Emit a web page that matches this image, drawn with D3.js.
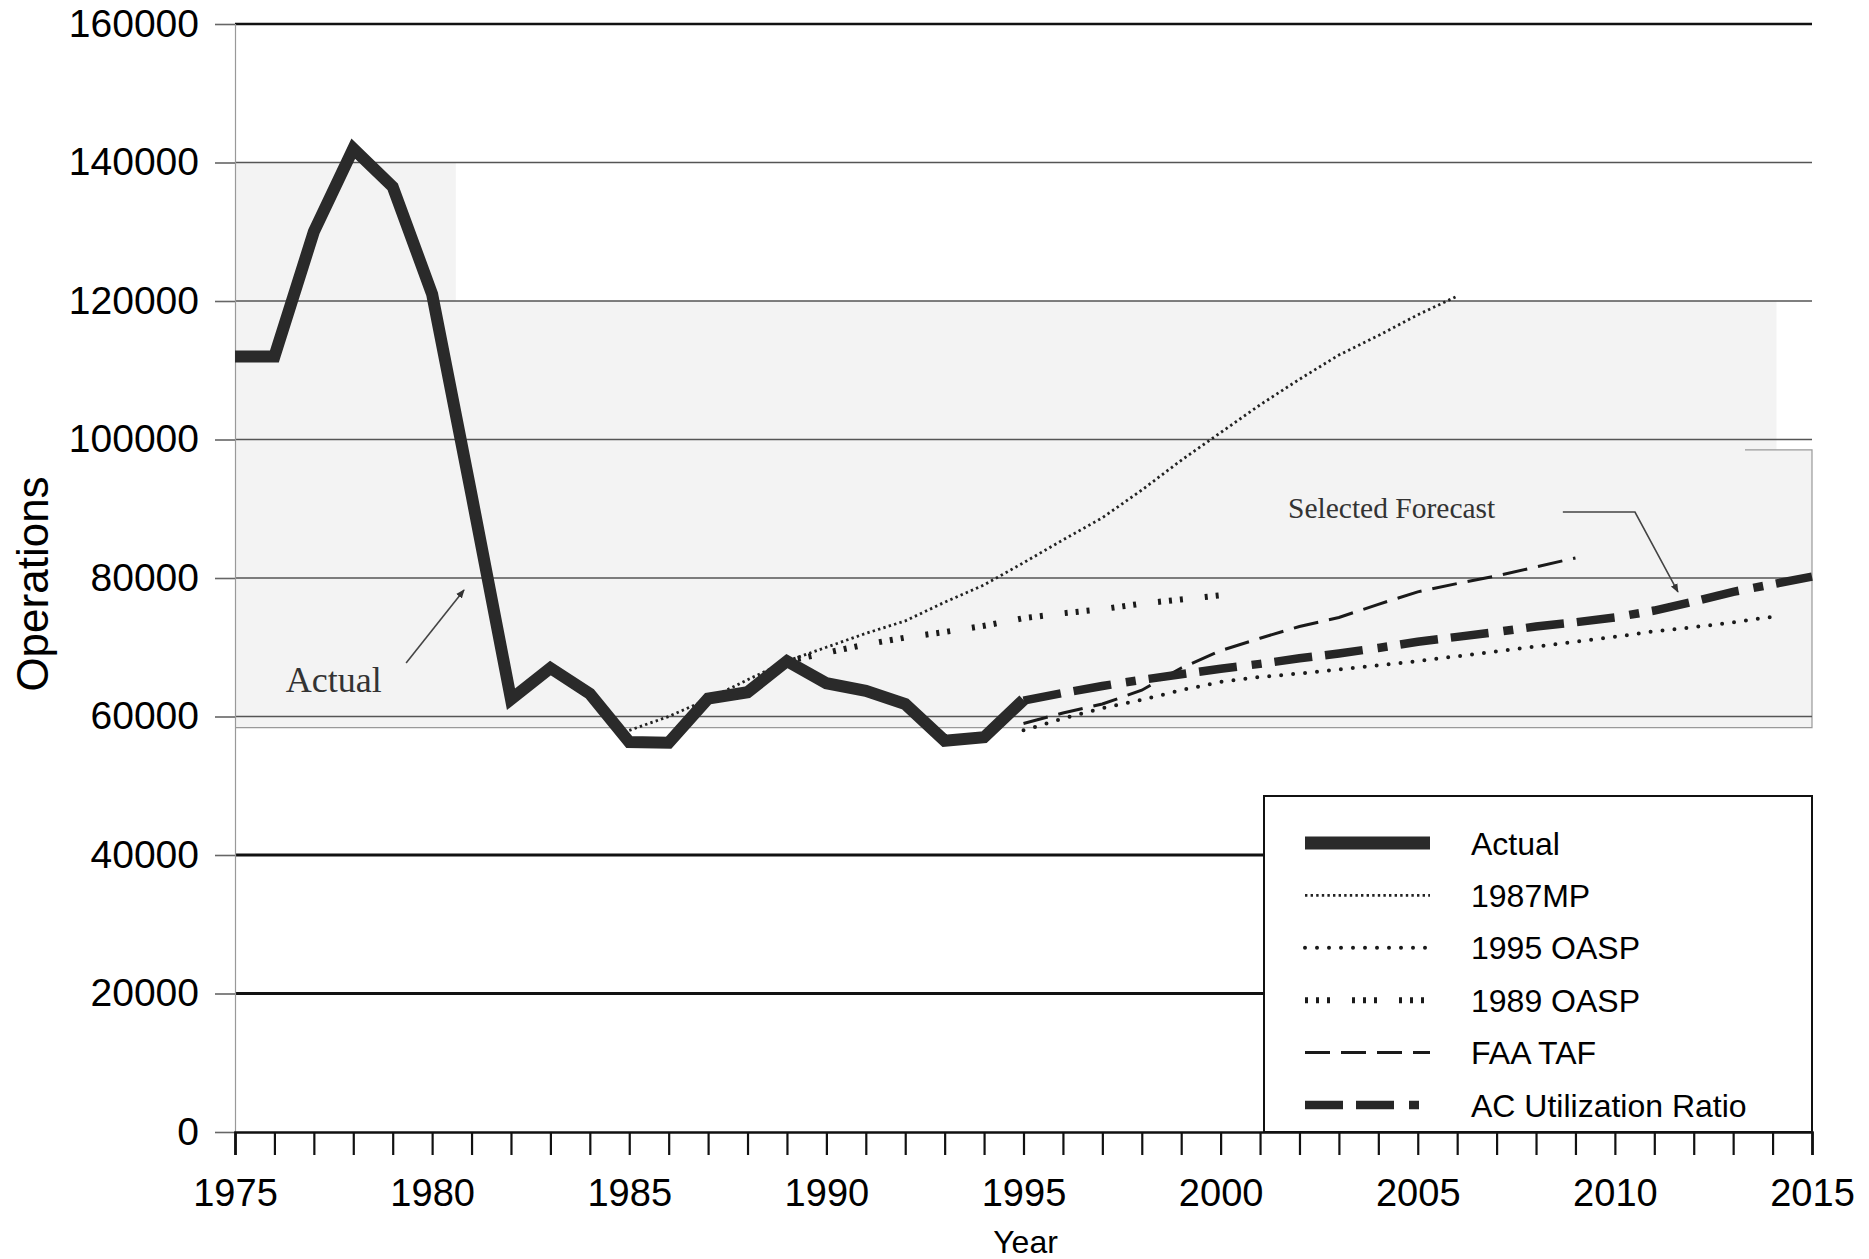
<!DOCTYPE html>
<html><head><meta charset="utf-8">
<script src="https://cdn.jsdelivr.net/npm/d3@7"></script>
<style>
html,body{margin:0;padding:0;background:#fff;}
svg{display:block;}
</style></head><body>
<svg id="chart" width="1869" height="1259"></svg>
<script>
// ---------------- DATA ----------------
const actualYears = [1975,1976,1977,1978,1979,1980,1981,1982,1983,1984,1985,1986,1987,1988,1989,1990,1991,1992,1993,1994,1995];
const actualOps   = [112000,112000,130000,142000,136500,121000,92000,62500,67000,63300,56300,56200,62600,63500,68000,64800,63700,61800,56500,57000,62400];

const mp1987Years = [1985,1986,1987,1988,1989,1990,1991,1992,1993,1994,1995,1996,1997,1998,1999,2000,2001,2002,2003,2004,2005,2006];
const mp1987Ops   = [58000,60000,62500,65300,68000,70000,72000,73800,76500,79000,82200,85500,88700,92700,97000,101000,105000,108700,112200,115000,118000,120700];

const oasp1995Years = [1995,1996,1997,1998,1999,2000,2001,2002,2003,2004,2005,2006,2007,2008,2009,2010,2011,2012,2013,2014];
const oasp1995Ops   = [58000,59700,61200,62400,63800,65000,65700,66200,66800,67400,68000,68700,69400,70100,70800,71500,72300,72900,73600,74400];

const oasp1989Years = [1989,1990,1991,1992,1993,1994,1995,1996,1997,1998,1999,2000];
const oasp1989Ops   = [68000,69200,70400,71400,72200,73100,74200,74900,75500,76300,76900,77500];

const tafYears = [1995,1996,1997,1998,1999,2000,2001,2002,2003,2004,2005,2006,2007,2008,2009];
const tafOps   = [59000,60500,61800,63800,67000,69500,71300,73000,74300,76200,78000,79200,80300,81600,82900];

const acYears = [1995,1996,1997,1998,1999,2000,2001,2002,2003,2004,2005,2006,2007,2008,2009,2010,2011,2012,2013,2014,2015];
const acOps   = [62300,63400,64400,65300,66100,66900,67600,68400,69100,69900,70800,71500,72200,73000,73600,74300,75300,76600,78000,79100,80200];

const yTickValues = [0,20000,40000,60000,80000,100000,120000,140000,160000];
const xTickYears  = [1975,1976,1977,1978,1979,1980,1981,1982,1983,1984,1985,1986,1987,1988,1989,1990,1991,1992,1993,1994,1995,1996,1997,1998,1999,2000,2001,2002,2003,2004,2005,2006,2007,2008,2009,2010,2011,2012,2013,2014,2015];
const xLabelYears = [1975,1980,1985,1990,1995,2000,2005,2010,2015];

const legendLabels = ["Actual","1987MP","1995 OASP","1989 OASP","FAA TAF","AC Utilization Ratio"];

// ---------------- STYLES ----------------
const styles = {
  "Actual":               {w:12, dash:null, cap:"butt", color:"#2a2a2a"},
  "1987MP":               {w:2.8, dash:"2.4,3.2", cap:"butt", color:"#222"},
  "1995 OASP":            {w:4, dash:"0,12", cap:"round", color:"#1a1a1a"},
  "1989 OASP":            {w:6, dash:"3,8,3,8,3,22", cap:"butt", color:"#1a1a1a"},
  "FAA TAF":              {w:3, dash:"25,11", cap:"butt", color:"#1a1a1a"},
  "AC Utilization Ratio": {w:8.5, dash:"38,13,38,15,10,13", cap:"butt", color:"#262626"}
};

const series = [
  {name:"1987MP", years:mp1987Years, vals:mp1987Ops},
  {name:"1989 OASP", years:oasp1989Years, vals:oasp1989Ops},
  {name:"1995 OASP", years:oasp1995Years, vals:oasp1995Ops},
  {name:"FAA TAF", years:tafYears, vals:tafOps},
  {name:"AC Utilization Ratio", years:acYears, vals:acOps},
  {name:"Actual", years:actualYears, vals:actualOps}
];

const x = d3.scaleLinear().domain([1975,2015]).range([235,1812]);
const y = d3.scaleLinear().domain([0,160000]).range([1132,24]);

const svg = d3.select("#chart");
const sans = "'Liberation Sans', Arial, sans-serif";
const serif = "'Liberation Serif', 'Times New Roman', serif";

// defs - arrow marker
const defs = svg.append("defs");
defs.append("marker").attr("id","arr").attr("viewBox","0 0 10 10")
  .attr("refX",9).attr("refY",5).attr("markerWidth",9).attr("markerHeight",9)
  .attr("orient","auto-start-reverse").attr("markerUnits","userSpaceOnUse")
  .append("path").attr("d","M0,1 L10,5 L0,9 Z").attr("fill","#333");

// ---------------- shaded region ----------------
const shade = [[1975,140000],[1980.6,140000],[1980.6,120000],[2014.1,120000],[2014.1,98500],[2015,98500],[2015,58400],[1975,58400]];
svg.append("path")
  .attr("d", d3.line().x(d=>x(d[0])).y(d=>y(d[1]))(shade) + "Z")
  .attr("fill","#f3f3f3");
svg.append("path")
  .attr("d", d3.line().x(d=>x(d[0])).y(d=>y(d[1]))([[2013.3,98500],[2015,98500],[2015,58400],[1975,58400]]))
  .attr("fill","none").attr("stroke","#999").attr("stroke-width",1.2);

// ---------------- gridlines ----------------
const grid = svg.append("g");
yTickValues.filter(v=>v>0).forEach(v=>{
  let col="#555", w=1.6;
  if (v===160000){col="#111"; w=2.6;}
  if (v<=40000){col="#111"; w=2.8;}
  grid.append("line")
    .attr("x1",x(1975)).attr("x2",x(2015))
    .attr("y1",y(v)).attr("y2",y(v))
    .attr("stroke",col).attr("stroke-width",w);
});

// ---------------- axes ----------------
const yAxis = d3.axisLeft(y).tickValues(yTickValues).tickSize(20).tickPadding(16).tickFormat(d3.format("d"));
const gy = svg.append("g").attr("transform",`translate(${x(1975)},0)`).call(yAxis);
gy.select(".domain").attr("stroke","#999").attr("stroke-width",1.2);
gy.selectAll(".tick line").attr("stroke","#666").attr("stroke-width",1.6);
gy.selectAll("text").attr("font-family",sans).attr("font-size",39).attr("fill","#000");

const xAxis = d3.axisBottom(x).tickValues(xTickYears).tickSize(23).tickPadding(24)
  .tickFormat(d => xLabelYears.includes(d) ? String(d) : "");
const gx = svg.append("g").attr("transform",`translate(0,${y(0)})`).call(xAxis);
gx.select(".domain").attr("stroke","#111").attr("stroke-width",2.6);
gx.selectAll(".tick line").attr("stroke","#111").attr("stroke-width",2.2);
gx.selectAll("text").attr("font-family",sans).attr("font-size",38).attr("fill","#000");

// axis titles
svg.append("text").attr("transform",`translate(48,${y(80000)+6}) rotate(-90)`)
  .attr("text-anchor","middle").attr("font-family",sans).attr("font-size",44).attr("fill","#000")
  .text("Operations");
svg.append("text").attr("x",x(1995)+2).attr("y",1253)
  .attr("text-anchor","middle").attr("font-family",sans).attr("font-size",32).attr("fill","#000")
  .text("Year");

// ---------------- legend ----------------
const lg = svg.append("g");
lg.append("rect").attr("x",1264).attr("y",796).attr("width",548).attr("height",336)
  .attr("fill","#fff").attr("stroke","#111").attr("stroke-width",2);
legendLabels.forEach((name,i)=>{
  const cy = 843 + i*52.4;
  const s = styles[name];
  lg.append("line").attr("x1",1305).attr("x2",1430).attr("y1",cy).attr("y2",cy)
    .attr("stroke",s.color).attr("stroke-width", name==="Actual"?13:s.w)
    .attr("stroke-dasharray",s.dash).attr("stroke-linecap",s.cap);
  lg.append("text").attr("x",1471).attr("y",cy).attr("dy","0.36em")
    .attr("font-family",sans).attr("font-size",32).attr("fill","#000").text(name);
});

// ---------------- series ----------------
const line = d3.line().x(d=>x(d[0])).y(d=>y(d[1]));
series.forEach(s=>{
  const st = styles[s.name];
  svg.append("path").datum(d3.zip(s.years,s.vals))
    .attr("d",line).attr("fill","none")
    .attr("stroke",st.color).attr("stroke-width",st.w)
    .attr("stroke-dasharray",st.dash).attr("stroke-linecap",st.cap)
    .attr("stroke-linejoin","miter").attr("stroke-miterlimit",4);
});

// ---------------- annotations ----------------
svg.append("text").attr("x",x(1976.29)).attr("y",y(63540))
  .attr("font-family",serif).attr("font-size",36).attr("fill","#333").text("Actual");
svg.append("path").attr("d",line([[1979.34,67725],[1980.81,78270]]))
  .attr("fill","none").attr("stroke","#444").attr("stroke-width",1.6).attr("marker-end","url(#arr)");

svg.append("text").attr("x",x(2001.71)).attr("y",y(88664))
  .attr("font-family",serif).attr("font-size",29.5).attr("fill","#333").text("Selected Forecast");
svg.append("path").attr("d",line([[2008.68,89530],[2010.51,89530],[2011.60,77980]]))
  .attr("fill","none").attr("stroke","#444").attr("stroke-width",1.6).attr("marker-end","url(#arr)");
</script>
</body></html>
